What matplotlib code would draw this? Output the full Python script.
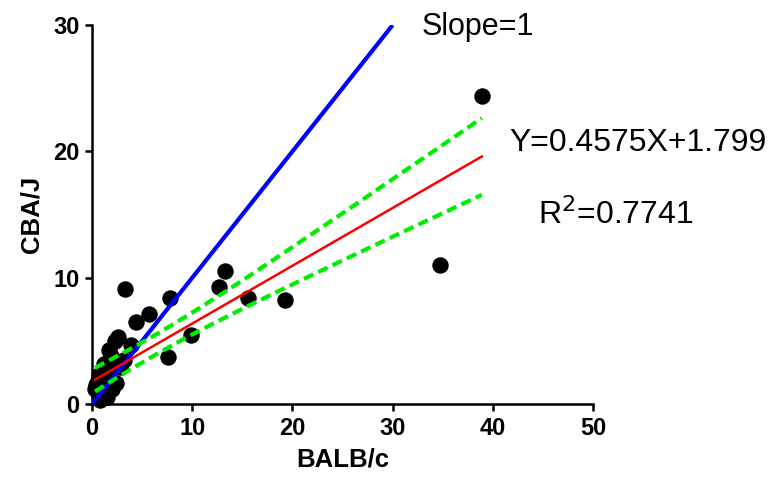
import numpy as np
import matplotlib
matplotlib.use("Agg")
import matplotlib.pyplot as plt

plt.rcParams['font.family'] = ['Liberation Sans', 'DejaVu Sans']

# BALB/c vs CBA/J measurements
balb = [38.9, 34.7, 19.3, 15.6, 13.3, 12.7, 9.9, 7.8, 7.6, 5.7, 4.4, 3.3,
        3.9, 2.6, 2.3, 1.7, 1.9, 3.2, 1.4, 1.1, 0.5, 0.3, 1.0, 1.5, 2.0,
        2.4, 0.8, 1.8, 0.7, 1.2, 1.6, 2.1, 0.4, 2.8, 1.3]
cba = [24.4, 11.0, 8.2, 8.4, 10.5, 9.3, 5.5, 8.4, 3.7, 7.1, 6.5, 9.1,
       4.7, 5.3, 5.0, 4.3, 3.8, 3.5, 2.9, 2.5, 1.7, 1.2, 0.9, 0.6, 1.2,
       1.7, 0.3, 2.0, 2.3, 3.2, 2.6, 3.0, 1.5, 2.9, 1.9]

# Linear regression reported for the data
slope = 0.4575
intercept = 1.799
r_squared = 0.7741

x_ticks = [0, 10, 20, 30, 40, 50]
y_ticks = [0, 10, 20, 30]

x = np.array(balb)
y = np.array(cba)
n = len(x)
xbar = x.mean()
sxx = np.sum((x - xbar) ** 2)
resid = y - (slope * x + intercept)
s = np.sqrt(np.sum(resid ** 2) / (n - 2))
t_crit = 2.035  # two-sided 95%, df = n - 2

xf = np.linspace(x.min(), x.max(), 200)
yf = slope * xf + intercept
half = t_crit * s * np.sqrt(1.0 / n + (xf - xbar) ** 2 / sxx)

fig = plt.figure(figsize=(7.72, 4.91), dpi=100)
ax = fig.add_axes([0.1192, 0.177, 0.649, 0.772])

ax.plot([0, 30], [0, 30], color='#0000ff', lw=3, solid_capstyle='butt', zorder=3)
ax.scatter(x, y, s=140, color='black', zorder=2, clip_on=False, linewidths=0)
ax.plot(xf, yf + half, color='#00ee00', lw=3, ls=(0, (2.5, 1.3)), zorder=4)
ax.plot(xf, yf - half, color='#00ee00', lw=3, ls=(0, (2.5, 1.3)), zorder=4)
ax.plot(xf, yf, color='#ff0000', lw=1.8, zorder=5)

ax.set_xlim(0, 50)
ax.set_ylim(0, 30)
ax.set_xticks(x_ticks)
ax.set_yticks(y_ticks)
for sp in ['top', 'right']:
    ax.spines[sp].set_visible(False)
for sp in ['left', 'bottom']:
    ax.spines[sp].set_linewidth(1.8)
ax.tick_params(axis='both', direction='out', length=5, width=1.8,
               labelsize=17, pad=4)
for lab in ax.get_xticklabels() + ax.get_yticklabels():
    lab.set_fontweight('bold')

ax.set_xlabel('BALB/c', fontsize=18.5, fontweight='bold', labelpad=6)
ax.set_ylabel('CBA/J', fontsize=18.5, fontweight='bold', labelpad=7)

fig.text(478 / 772, 1 - 27 / 491, 'Slope=1', fontsize=22,
         ha='center', va='center')
fig.text(638 / 772, 1 - 143 / 491, 'Y=%.4fX+%.3f' % (slope, intercept),
         fontsize=23, ha='center', va='center')
fig.text(616 / 772, 1 - 215 / 491, 'R$^2$=%.4f' % r_squared,
         fontsize=23, ha='center', va='center')

fig.savefig('out.png', dpi=100)
